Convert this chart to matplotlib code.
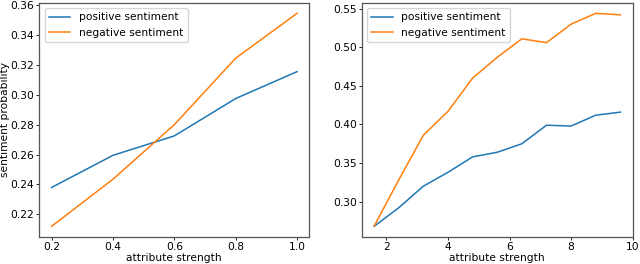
import matplotlib
matplotlib.use("Agg")
import matplotlib.pyplot as plt

x_left = [0.2, 0.4, 0.6, 0.8, 1.0]
pos_left = [0.238, 0.2595, 0.2725, 0.2975, 0.3155]
neg_left = [0.212, 0.2435, 0.280, 0.3245, 0.3545]

x_right = [1.6, 2.4, 3.2, 4.0, 4.8, 5.6, 6.4, 7.2, 8.0, 8.8, 9.6]
pos_right = [0.268, 0.292, 0.320, 0.338, 0.358, 0.364, 0.375, 0.399, 0.398, 0.412, 0.416]
neg_right = [0.268, 0.328, 0.386, 0.417, 0.460, 0.487, 0.511, 0.506, 0.530, 0.544, 0.542]

labels = ["positive sentiment", "negative sentiment"]

fs = 7.7
plt.rcParams.update({
    "font.size": fs,
    "axes.linewidth": 0.9,
    "axes.edgecolor": "#555555",
    "xtick.major.size": 2.0,
    "ytick.major.size": 2.0,
    "xtick.major.width": 0.6,
    "ytick.major.width": 0.6,
    "xtick.major.pad": 1.5,
    "ytick.major.pad": 1.5,
})

fig = plt.figure(figsize=(6.4, 2.64), dpi=100)
ax1 = fig.add_axes([0.0614, 0.1023, 0.4219, 0.8875])
ax2 = fig.add_axes([0.5652, 0.1023, 0.4234, 0.8875])

ax1.plot(x_left, pos_left, color="#1f77b4", lw=1.1, label=labels[0])
ax1.plot(x_left, neg_left, color="#ff7f0e", lw=1.1, label=labels[1])
ax2.plot(x_right, pos_right, color="#1f77b4", lw=1.1, label=labels[0])
ax2.plot(x_right, neg_right, color="#ff7f0e", lw=1.1, label=labels[1])

for ax in (ax1, ax2):
    ax.tick_params(labelsize=fs)
    ax.set_xlabel("attribute strength", fontsize=fs, labelpad=1.0)
    ax.legend(loc="upper left", fontsize=fs)
ax1.set_ylabel("sentiment probability", fontsize=fs)
ax1.yaxis.set_label_coords(-0.108, 0.5)
ax1.set_xticks([0.2, 0.4, 0.6, 0.8, 1.0])
ax1.set_yticks([0.22, 0.24, 0.26, 0.28, 0.30, 0.32, 0.34, 0.36])
ax2.set_xticks([2, 4, 6, 8, 10])
ax2.set_yticks([0.30, 0.35, 0.40, 0.45, 0.50, 0.55])

fig.savefig("out.png", dpi=100)
